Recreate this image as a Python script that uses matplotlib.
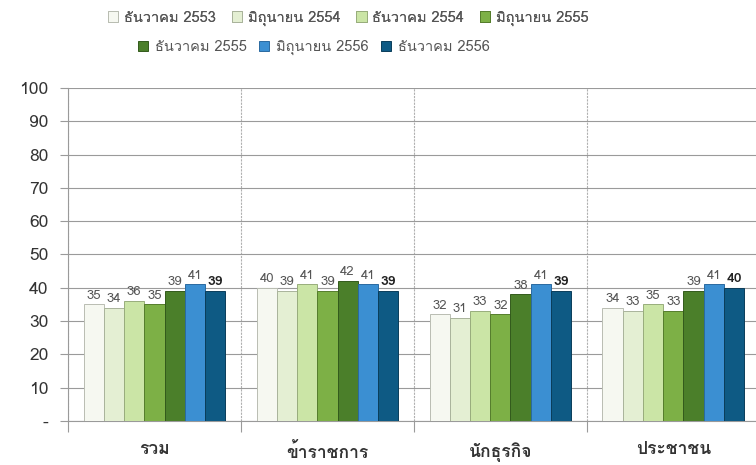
import matplotlib
matplotlib.use("Agg")
import matplotlib.pyplot as plt
from matplotlib import font_manager as fm
from matplotlib.ft2font import FT2Font
from matplotlib.patches import Patch
import matplotlib.patheffects as pe
import numpy as np

categories = ["รวม", "ข้าราชการ", "นักธุรกิจ", "ประชาชน"]
series_names = ["ธันวาคม 2553", "มิถุนายน 2554", "ธันวาคม 2554", "มิถุนายน 2555",
                "ธันวาคม 2555", "มิถุนายน 2556", "ธันวาคม 2556"]
dec2553 = [35, 40, 32, 34]
jun2554 = [34, 39, 31, 33]
dec2554 = [36, 41, 33, 35]
jun2555 = [35, 39, 32, 33]
dec2555 = [39, 42, 38, 39]
jun2556 = [41, 41, 41, 41]
dec2556 = [39, 39, 39, 40]
series = [dec2553, jun2554, dec2554, jun2555, dec2555, jun2556, dec2556]
yticks = [0, 10, 20, 30, 40, 50, 60, 70, 80, 90, 100]
ytick_labels = ["-", "10", "20", "30", "40", "50", "60", "70", "80", "90", "100"]

colors = ["#f6f8f1", "#e4efd3", "#cbe5a6", "#7db046", "#4b7f2a", "#3b8fd2", "#0e5a84"]
edges = ["#b9bdb2", "#a9b39b", "#98ad7c", "#557d2c", "#335a1c", "#2a6aa0", "#0a3d5a"]

# find a font with Thai glyphs (and ideally a bold face with Thai glyphs)
pref = ["Tahoma", "Noto Sans Thai", "Noto Sans Thai UI", "Loma", "Garuda", "Norasi",
        "Sarabun", "Kinnari", "Waree", "Umpush", "Laksaman"]
thai = {}
for f in fm.fontManager.ttflist:
    try:
        cm = FT2Font(f.fname).get_charmap()
    except Exception:
        continue
    if ord("ก") in cm and ord("9") in cm:
        w = f.weight if isinstance(f.weight, int) else fm.weight_dict.get(f.weight, 400)
        thai.setdefault(f.name, set()).add(w)
names = sorted(thai, key=lambda n: (0 if max(thai[n]) >= 600 else 1,
                                     pref.index(n) if n in pref else len(pref)))
has_bold = bool(names) and max(thai[names[0]]) >= 600
plt.rcParams["font.family"] = names[:1] + ["DejaVu Sans"]

def bold_kw(color):
    if has_bold:
        return dict(fontweight="bold")
    return dict(path_effects=[pe.withStroke(linewidth=0.9, foreground=color)])

fig = plt.figure(figsize=(7.56, 4.65), dpi=100)
fig.patch.set_facecolor("white")
ax = fig.add_axes([0.09, 0.0946, 0.915, 0.7162])

n = len(series)
bw = 0.117
x = np.arange(len(categories))
for i, (vals, c, ec) in enumerate(zip(series, colors, edges)):
    pos = x + (i - (n - 1) / 2) * bw
    ax.bar(pos, vals, width=bw, color=c, edgecolor=ec, linewidth=0.7, zorder=3,
           label=series_names[i])
    last = i == n - 1
    for p, v in zip(pos, vals):
        kw = bold_kw("#222222") if last else {}
        ax.text(p, v + 0.8, str(v), ha="center", va="bottom",
                fontsize=10 if last else 9.5,
                color="#222222" if last else "#555555", zorder=4, **kw)

ax.set_xlim(-0.5, 3.5)
ax.set_ylim(0, 100)
ax.set_yticks(yticks)
ax.set_yticklabels(ytick_labels, fontsize=12.5, color="#333333")
ax.yaxis.grid(True, color="#9a9a9a", linewidth=0.8, zorder=0)
ax.set_xticks(np.arange(-0.5, 4.0, 1.0))
ax.set_xticklabels([])
ax.set_xticks(x, minor=True)
ax.set_xticklabels(categories, minor=True, fontsize=12.5, color="#333333")
for t in ax.get_xticklabels(minor=True):
    t.set(**bold_kw("#333333"))
ax.tick_params(axis="x", which="minor", length=0, pad=15)
ax.tick_params(axis="x", which="major", length=8, color="#9a9a9a", width=0.8)
ax.tick_params(axis="y", length=6, color="#9a9a9a", width=0.8, pad=8)
ax.xaxis.grid(True, which="major", color="#b0b0b0", linewidth=0.8, linestyle=(0, (2, 1)), zorder=0)
for s in ["top", "right"]:
    ax.spines[s].set_visible(False)
for s in ["left", "bottom"]:
    ax.spines[s].set_color("#9a9a9a")
    ax.spines[s].set_linewidth(0.8)

handles = [Patch(facecolor=c, edgecolor=e, linewidth=0.7) for c, e in zip(colors, edges)]
leg1 = fig.legend(handles[:4], series_names[:4], loc="center left", ncol=4,
                  bbox_to_anchor=(0.125, 0.961), frameon=False, fontsize=10.5,
                  handlelength=0.7, handleheight=0.7, handletextpad=0.4, columnspacing=1.1,
                  labelcolor="#555555")
leg2 = fig.legend(handles[4:], series_names[4:], loc="center left", ncol=3,
                  bbox_to_anchor=(0.165, 0.897), frameon=False, fontsize=10.5,
                  handlelength=0.7, handleheight=0.7, handletextpad=0.5, columnspacing=0.8,
                  labelcolor="#555555")
fig.add_artist(leg1)

fig.savefig("out.png", dpi=100)
